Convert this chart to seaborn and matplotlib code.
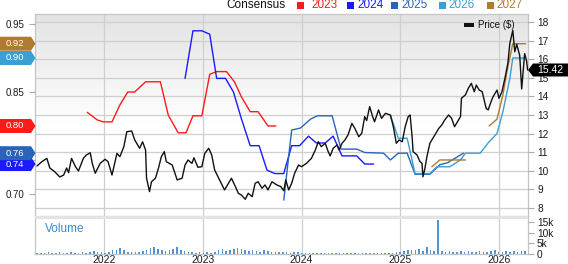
import numpy as np
import pandas as pd
import matplotlib
matplotlib.use('Agg')
import matplotlib.pyplot as plt
import seaborn as sns
from matplotlib.patches import Polygon, Rectangle
from matplotlib.colors import LinearSegmentedColormap

sns.set_theme(style='white')
plt.rcParams['font.family'] = ['Liberation Sans', 'DejaVu Sans']

# ---------------- data ----------------
price_t = [2021.32, 2021.37, 2021.42, 2021.45, 2021.50, 2021.55, 2021.59, 2021.62, 2021.64, 2021.67,
           2021.71, 2021.74, 2021.79, 2021.82, 2021.86, 2021.88, 2021.91, 2021.96, 2022.01, 2022.04,
           2022.08, 2022.13, 2022.16, 2022.20, 2022.23, 2022.28, 2022.31, 2022.36, 2022.39, 2022.42,
           2022.43, 2022.46, 2022.48, 2022.52, 2022.55, 2022.58, 2022.61, 2022.63, 2022.69, 2022.74,
           2022.79, 2022.82, 2022.85, 2022.89, 2022.91, 2022.95, 2022.99, 2023.02, 2023.06, 2023.09,
           2023.12, 2023.17, 2023.22, 2023.26, 2023.29, 2023.33, 2023.36, 2023.39, 2023.43, 2023.46,
           2023.50, 2023.53, 2023.56, 2023.60, 2023.63, 2023.66, 2023.70, 2023.75, 2023.79, 2023.82,
           2023.84, 2023.87, 2023.90, 2023.93, 2023.97, 2024.00, 2024.05, 2024.10, 2024.14, 2024.17,
           2024.20, 2024.24, 2024.27, 2024.29, 2024.32, 2024.36, 2024.38, 2024.41, 2024.44, 2024.47,
           2024.51, 2024.54, 2024.58, 2024.61, 2024.64, 2024.66, 2024.69, 2024.72, 2024.74, 2024.78,
           2024.81, 2024.85, 2024.90, 2024.93, 2024.96, 2024.99, 2025.02, 2025.05, 2025.08, 2025.10,
           2025.12, 2025.13, 2025.17, 2025.20, 2025.22, 2025.23, 2025.25, 2025.27, 2025.30, 2025.33,
           2025.36, 2025.39, 2025.42, 2025.45, 2025.49, 2025.52, 2025.55, 2025.61, 2025.62, 2025.66,
           2025.69, 2025.72, 2025.75, 2025.77, 2025.80, 2025.83, 2025.87, 2025.89, 2025.92, 2025.94,
           2025.98, 2026.00, 2026.03, 2026.06, 2026.09, 2026.11, 2026.14, 2026.16, 2026.18, 2026.21,
           2026.23, 2026.26, 2026.28, 2026.29]
price = [10.26, 10.49, 10.67, 10.15, 9.95, 9.67, 9.77, 10.15, 9.90, 10.67,
         10.22, 9.99, 10.67, 10.85, 10.97, 10.40, 9.87, 10.40, 10.62, 10.49,
         9.77, 10.94, 10.76, 11.30, 12.10, 12.14, 11.66, 11.21, 11.56, 11.12,
         9.60, 8.88, 9.41, 9.60, 10.13, 10.76, 11.03, 10.49, 10.31, 9.51,
         9.60, 10.31, 10.58, 10.40, 10.70, 10.19, 10.22, 10.94, 11.21, 10.85,
         10.04, 9.51, 8.97, 9.33, 9.60, 9.15, 8.79, 8.70, 8.47, 8.79,
         8.61, 9.33, 9.41, 9.06, 9.24, 8.97, 9.41, 9.24, 9.15, 8.93,
         9.51, 8.97, 9.33, 9.87, 10.31, 10.22, 10.40, 10.67, 11.12, 11.56,
         11.30, 11.48, 11.03, 10.80, 11.21, 11.39, 11.12, 11.48, 11.66, 11.92,
         12.55, 12.28, 11.83, 12.02, 12.91, 12.70, 13.45, 12.91, 12.64, 13.27,
         12.82, 13.09, 13.00, 12.37, 11.48, 11.66, 11.56, 12.37, 12.91, 13.00,
         11.83, 11.03, 10.85, 10.49, 10.40, 9.68, 10.13, 10.76, 11.48, 11.75,
         12.02, 12.28, 12.46, 12.73, 13.00, 12.82, 12.37, 12.91, 13.90, 14.08,
         14.44, 14.70, 14.25, 14.61, 14.34, 14.25, 13.36, 13.27, 13.72, 13.98,
         14.34, 13.90, 14.25, 14.97, 15.78, 16.85, 17.55, 16.40, 16.80, 16.20,
         14.40, 16.30, 15.90, 15.42]

eps23_t = [2021.83, 2021.93, 2021.99, 2022.08, 2022.16, 2022.24, 2022.31, 2022.42, 2022.57, 2022.65,
           2022.75, 2022.83, 2022.90, 2022.99, 2023.07, 2023.14, 2023.24, 2023.32, 2023.39, 2023.48,
           2023.56, 2023.66, 2023.74]
eps23 = [0.820, 0.809, 0.806, 0.806, 0.831, 0.850, 0.850, 0.865, 0.865, 0.816,
         0.790, 0.790, 0.815, 0.815, 0.876, 0.880, 0.880, 0.865, 0.843, 0.821,
         0.821, 0.800, 0.800]

eps24_t = [2022.82, 2022.90, 2022.99, 2023.07, 2023.14, 2023.23, 2023.31, 2023.39, 2023.48, 2023.57,
           2023.65, 2023.73, 2023.82, 2023.90, 2023.98, 2024.07, 2024.15, 2024.24, 2024.32, 2024.41,
           2024.56, 2024.64, 2024.73]
eps24 = [0.870, 0.940, 0.940, 0.935, 0.870, 0.870, 0.850, 0.811, 0.771, 0.771,
         0.735, 0.730, 0.730, 0.771, 0.771, 0.785, 0.775, 0.775, 0.785, 0.756,
         0.756, 0.744, 0.744]

eps25_t = [2023.82, 2023.90, 2023.99, 2024.09, 2024.16, 2024.31, 2024.40, 2024.56, 2024.64, 2024.83,
           2024.90, 2024.98, 2025.07, 2025.15, 2025.30, 2025.40, 2025.48, 2025.64]
eps25 = [0.691, 0.794, 0.797, 0.810, 0.815, 0.815, 0.766, 0.766, 0.761, 0.760,
         0.750, 0.760, 0.760, 0.729, 0.729, 0.743, 0.746, 0.760]

eps26_t = [2024.90, 2024.98, 2025.07, 2025.15, 2025.30, 2025.37, 2025.50, 2025.61, 2025.66, 2025.81,
           2025.89, 2025.98, 2026.04, 2026.11, 2026.14, 2026.26]
eps26 = [0.816, 0.782, 0.782, 0.730, 0.730, 0.740, 0.740, 0.750, 0.760, 0.760,
         0.775, 0.789, 0.821, 0.870, 0.900, 0.900]

eps27a_t = [2025.32, 2025.40, 2025.66]
eps27a = [0.740, 0.750, 0.750]
eps27_t = [2025.90, 2025.98, 2026.04, 2026.09, 2026.14, 2026.27]
eps27 = [0.800, 0.810, 0.846, 0.887, 0.921, 0.921]

# biweekly volume (thousands of shares), starting late April 2021
volume_k = [0.3, 0.4, 0.3, 0.5, 0.3, 0.4, 0.6, 0.4, 0.3, 0.5, 0.4, 0.3, 0.7, 0.4, 0.5,
            1.3, 0.6, 0.5, 0.4, 0.9,
            1.8, 1.5, 2.8, 1.6,
            0.9, 0.6, 0.8, 0.5, 1.0,
            1.9, 2.6, 3.0, 2.4, 1.8,
            1.2, 1.5, 2.2, 3.0, 1.9, 1.4,
            0.6, 0.5, 0.4, 0.5, 0.3, 0.5, 0.4, 0.6,
            1.6, 2.2, 1.4, 1.8, 2.0,
            2.6, 2.4, 1.6,
            1.3, 1.9, 1.2, 0.9, 1.6, 1.1,
            0.7, 0.6, 0.8, 0.5, 0.6, 0.4, 0.5, 0.6, 0.4,
            0.3, 0.2, 0.3, 0.4, 0.3, 0.2, 0.3, 0.3, 0.4, 0.2, 0.3, 0.3,
            0.2, 0.4, 0.3, 0.3, 0.2, 0.3, 0.4, 0.3, 0.3, 0.2, 0.3, 0.4,
            0.8, 0.7, 1.2, 1.6, 1.8, 1.5, 2.0, 1.4,
            3.2, 1.6, 1.3, 16.0,
            1.0, 0.8, 1.2, 0.9, 0.7, 1.0, 0.8, 1.1, 0.9, 0.8, 1.0, 0.7,
            0.9, 1.0, 1.6, 0.9, 0.8, 1.0, 0.9, 1.1, 0.8, 1.0, 1.2]
vol_start = 2021.32

years = [2022, 2023, 2024, 2025, 2026]
eps_ticks = [0.70, 0.75, 0.80, 0.85, 0.90, 0.95]
price_ticks = [8, 9, 10, 11, 12, 13, 14, 15, 16, 17, 18]
vol_ticks = [0, 5, 10, 15]
vol_labels = ['0', '5k', '10k', '15k']

series = [
    ('2023', '#ff1a1a', [(eps23_t, eps23)]),
    ('2024', '#1a1aff', [(eps24_t, eps24)]),
    ('2025', '#2a64b8', [(eps25_t, eps25)]),
    ('2026', '#3a9fd2', [(eps26_t, eps26)]),
    ('2027', '#b07a30', [(eps27a_t, eps27a), (eps27_t, eps27)]),
]

# ---------------- layout ----------------
W, H = 568, 264
fig = plt.figure(figsize=(W / 100, H / 100), dpi=100)
fig.patch.set_facecolor('white')

def fx(px):
    return px / W

def fy(py):
    return 1 - py / H

L, R, T, B = 35, 528, 14, 216
VB = 253.5
XMIN, XMAX = 2021.30, 2026.294
PMIN, PMAX = 7.57, 18.43
EMIN, EMAX = 0.6676, 0.9647

rect_main = [fx(L), fy(B), fx(R - L), (B - T) / H]
bg = fig.add_axes(rect_main, zorder=0)
grad = np.linspace(0, 1, 256).reshape(-1, 1)
cmap = LinearSegmentedColormap.from_list('g', [(0, '#ffffff'), (0.45, '#ffffff'), (1, '#e3e3e3')])
bg.imshow(grad, extent=[XMIN, XMAX, PMIN, PMAX], origin='lower', aspect='auto', cmap=cmap, zorder=0)
bg.set_xlim(XMIN, XMAX)
bg.set_ylim(PMIN, PMAX)
for p in price_ticks:
    bg.axhline(p, color='#cfcfcf', lw=0.9, zorder=1)
for yv in years:
    bg.axvline(yv, color='#cfcfcf', lw=0.9, zorder=1)
bg.set_xticks([]); bg.set_yticks([])
for s in bg.spines.values():
    s.set_color('#c4c4c4'); s.set_linewidth(0.9)

ax = fig.add_axes(rect_main, zorder=1)
ax.patch.set_visible(False)
ax2 = ax.twinx()
ax2.set_zorder(2)
ax2.patch.set_visible(False)

for name, col, segs in series:
    for tt, vv in segs:
        sns.lineplot(x=tt, y=vv, ax=ax, color=col, lw=1.0, sort=False, estimator=None, legend=False)

sns.lineplot(x=price_t, y=price, ax=ax2, color='#111111', lw=1.0, sort=False, estimator=None, legend=False)

ax.set_xlim(XMIN, XMAX)
ax.set_ylim(EMIN, EMAX)
ax2.set_ylim(PMIN, PMAX)
ax.set_xlabel(''); ax.set_ylabel(''); ax2.set_ylabel('')
ax.set_xticks([])
ax.set_yticks(eps_ticks)
ax.set_yticklabels([f'{v:.2f}' for v in eps_ticks])
ax.tick_params(axis='y', left=True, length=4.3, width=0.8, color='#aaaaaa', labelsize=7,
               labelcolor='#1a1a1a', pad=3)
ax2.set_yticks(price_ticks)
ax2.set_yticklabels([str(v) for v in price_ticks])
ax2.tick_params(axis='y', right=True, length=4, width=0.8, color='#aaaaaa', labelsize=7.3,
                labelcolor='#1a1a1a', pad=2.5)
for a in (ax, ax2):
    for s in a.spines.values():
        s.set_visible(False)

# ---------------- volume ----------------
axv = fig.add_axes([fx(L), fy(VB), fx(R - L), (VB - B) / H], zorder=1)
vol_x = vol_start + np.arange(len(volume_k)) * 14 / 365.25
axv.bar(vol_x, volume_k, width=0.016, color='#4f95d6', linewidth=0, zorder=2)
axv.set_xlim(XMIN, XMAX)
axv.set_ylim(0, 18)
axv.axhspan(16.55, 18, color='#e3e3e3', zorder=3, lw=0)
for yv in years:
    axv.axvline(yv, color='#cfcfcf', lw=0.9, zorder=1)
axv.yaxis.tick_right()
axv.set_yticks(vol_ticks)
axv.set_yticklabels(vol_labels)
axv.tick_params(axis='y', right=True, left=False, length=4, width=0.8, color='#aaaaaa',
                labelsize=7.3, labelcolor='#1a1a1a', pad=2.5)
axv.set_xticks(years)
axv.set_xticklabels([str(y) for y in years])
axv.tick_params(axis='x', bottom=False, length=0, labelsize=7.5, labelcolor='#1a1a1a', pad=1.2)
for s in axv.spines.values():
    s.set_color('#c4c4c4'); s.set_linewidth(0.9)
axv.spines['top'].set_visible(False)
fig.text(fx(45), fy(229), 'Volume', fontsize=8.5, color='#3a8ccf', va='center', ha='left')

# ---------------- badges ----------------
fig.canvas.draw()
inv = fig.transFigure.inverted()

def to_fig(pts):
    return [tuple(inv.transform((px, H - py))) for px, py in pts]

def data_py(axis, val):
    yd = axis.transData.transform((XMIN, val))[1]
    return H - yd

for name, col, segs in series:
    last = segs[-1][1][-1]
    py = data_py(ax, last)
    pts = [(0, py - 7), (31, py - 7), (35.5, py), (31, py + 7), (0, py + 7)]
    fig.add_artist(Polygon(to_fig(pts), closed=True, facecolor=col, edgecolor='none',
                           transform=fig.transFigure, zorder=5))
    fig.text(fx(15), fy(py), f'{last:.2f}', color='white', fontsize=6.8, ha='center',
             va='center', zorder=6)

py = data_py(ax2, price[-1])
pts = [(528, py), (533, py - 6.5), (568, py - 6.5), (568, py + 6.5), (533, py + 6.5)]
fig.add_artist(Polygon(to_fig(pts), closed=True, facecolor='black', edgecolor='none',
                       transform=fig.transFigure, zorder=5))
fig.text(fx(550), fy(py), f'{price[-1]:.2f}', color='white', fontsize=7.5, ha='center',
         va='center', zorder=6)

# ---------------- header legend ----------------
fig.text(fx(226), fy(5.5), 'Consensus', fontsize=8.5, color='#111111', ha='left', va='center')
sq_x = [297, 347, 391, 439, 487]
tx_x = [311, 357, 401, 448, 496]
for (name, col, _), sx, tx in zip(series, sq_x, tx_x):
    fig.add_artist(Rectangle((fx(sx), fy(8.5)), 6.5 / W, 6.5 / H, transform=fig.transFigure,
                             facecolor=col, edgecolor='none'))
    fig.text(fx(tx), fy(5.5), name, fontsize=8.5, color=col, ha='left', va='center')

# price legend
fig.add_artist(Rectangle((fx(464), fy(27)), 10 / W, 4 / H, transform=fig.transFigure,
                         facecolor='#111111', edgecolor='none', zorder=5))
fig.text(fx(478.5), fy(25), 'Price ($)', fontsize=7, color='#111111', ha='left', va='center', zorder=5)

fig.savefig('out.png', dpi=100)
